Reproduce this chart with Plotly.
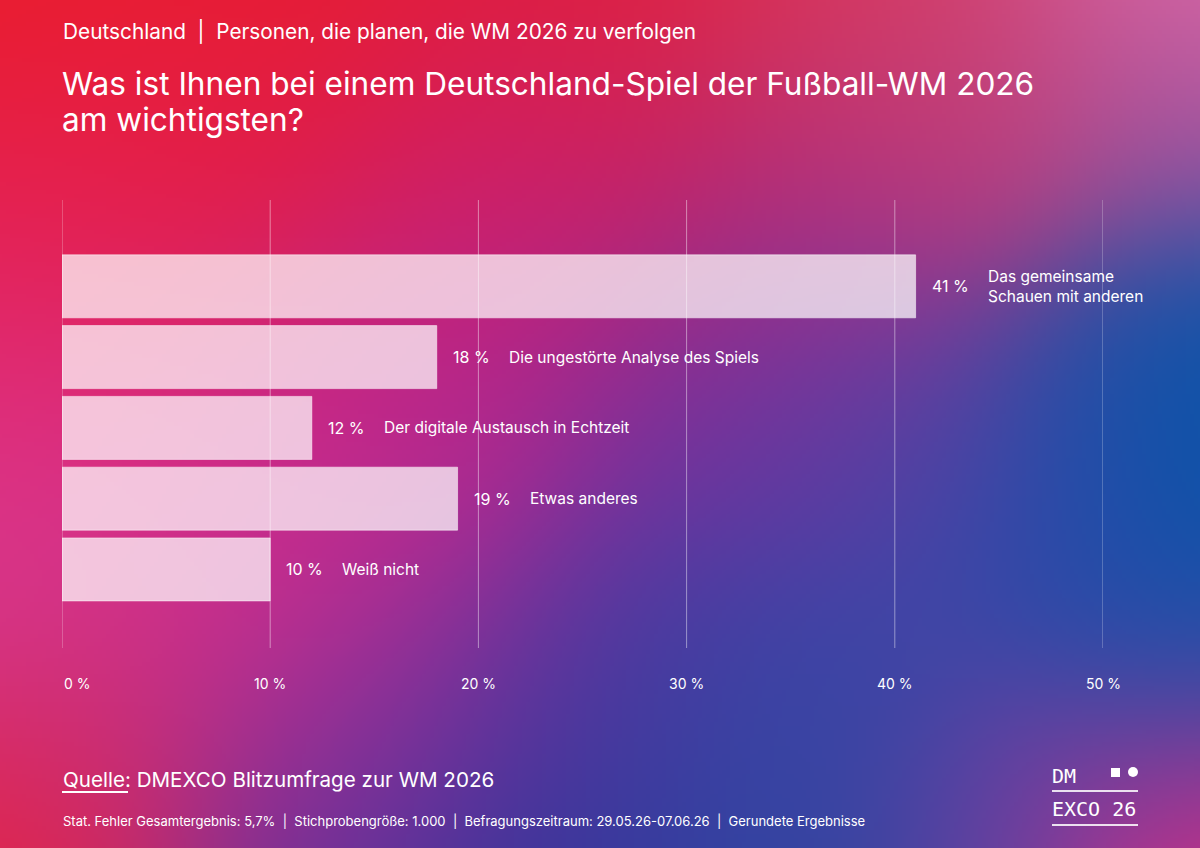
import base64
import struct
import zlib

import numpy as np
import plotly.graph_objects as go

# ------------------------------------------------------------
# data
# ------------------------------------------------------------
categories = [
    "Das gemeinsame<br>Schauen mit anderen",
    "Die ungestörte Analyse des Spiels",
    "Der digitale Austausch in Echtzeit",
    "Etwas anderes",
    "Weiß nicht",
]
values = [41, 18, 12, 19, 10]
tick_vals = [0, 10, 20, 30, 40, 50]
tick_text = ["0 %", "10 %", "20 %", "30 %", "40 %", "50 %"]

W, H = 1200, 848
L, R, T, B = 62, 97, 200, 200
PW, PH = W - L - R, H - T - B


def px(x):
    return (x - L) / PW


def py(y):
    return (H - B - y) / PH


# ------------------------------------------------------------
# background gradient (rendered to a small png)
# ------------------------------------------------------------
blobs = [
    (0, 0, "#ec1c26", 150), (300, 40, "#ea1c2a", 150), (620, 60, "#e41e34", 150),
    (880, 40, "#e04060", 130), (1180, 10, "#d86aa8", 120), (1180, 150, "#9450a0", 90),
    (1000, 150, "#b8407e", 120), (1195, 300, "#0555aa", 90), (1195, 450, "#0555aa", 90),
    (1195, 600, "#0a55aa", 90), (1100, 380, "#2050a8", 90), (1080, 560, "#3048a8", 100),
    (1180, 720, "#4a48a5", 100), (820, 220, "#9a2e95", 130), (500, 210, "#c0208a", 140),
    (200, 180, "#e21e50", 140), (20, 220, "#e4225a", 130), (720, 420, "#6a35a0", 130),
    (930, 420, "#4a45a5", 110), (20, 420, "#e0307f", 130), (20, 600, "#d83a90", 130),
    (260, 640, "#c8308f", 130), (420, 700, "#8a309a", 120), (620, 700, "#4a3aa0", 120),
    (820, 700, "#3a48a8", 120), (300, 830, "#6a309a", 110), (520, 830, "#28359a", 120),
    (800, 830, "#2c45a0", 120), (1000, 820, "#7040a0", 100), (1195, 845, "#e42a80", 100),
    (10, 845, "#ea223a", 110), (90, 760, "#c82c70", 110), (400, 420, "#b02890", 130),
    (250, 450, "#d42a8c", 130),
]

gw, gh = 300, 212
gx, gy = np.meshgrid(np.linspace(0, W, gw), np.linspace(0, H, gh))
acc = np.zeros((gh, gw, 3))
wsum = np.zeros((gh, gw))
for bx, by, col, sig in blobs:
    rgb = np.array([int(col[i:i + 2], 16) for i in (1, 3, 5)], dtype=float)
    w = np.exp(-((gx - bx) ** 2 + (gy - by) ** 2) / (2 * float(sig) ** 2))
    acc += w[..., None] * rgb
    wsum += w
img = np.clip(acc / (wsum[..., None] + 1e-12), 0, 255).astype(np.uint8)


def png_uri(a):
    h, w, _ = a.shape
    raw = b"".join(b"\x00" + a[r].tobytes() for r in range(h))

    def chunk(tag, data):
        c = struct.pack(">I", len(data)) + tag + data
        return c + struct.pack(">I", zlib.crc32(tag + data) & 0xFFFFFFFF)

    png = (b"\x89PNG\r\n\x1a\n"
           + chunk(b"IHDR", struct.pack(">IIBBBBB", w, h, 8, 2, 0, 0, 0))
           + chunk(b"IDAT", zlib.compress(raw, 9))
           + chunk(b"IEND", b""))
    return "data:image/png;base64," + base64.b64encode(png).decode()


# ------------------------------------------------------------
# figure
# ------------------------------------------------------------
ypos = list(range(len(categories)))
font = "Inter"
white = "#ffffff"

fig = go.Figure()
fig.add_trace(go.Bar(
    x=values,
    y=ypos,
    orientation="h",
    width=0.89,
    marker=dict(color="rgba(255,255,255,0.72)",
                line=dict(color="rgba(255,255,255,0.5)", width=1)),
    hoverinfo="skip",
))

ann = []
for v, yy, cat in zip(values, ypos, categories):
    ann.append(dict(x=v, y=yy, xref="x", yref="y", text=f"{v} %",
                    xanchor="left", xshift=14, showarrow=False,
                    font=dict(family=font, size=16, color=white)))
    ann.append(dict(x=v, y=yy, xref="x", yref="y", text=cat, align="left",
                    xanchor="left", xshift=70, showarrow=False,
                    font=dict(family=font, size=15.5, color=white)))

for tv, tt in zip(tick_vals, tick_text):
    ann.append(dict(x=tv, y=py(683), xref="x", yref="paper", text=tt,
                    xanchor="left" if tv == 0 else "center", yanchor="middle",
                    showarrow=False, font=dict(family=font, size=14, color=white)))

texts = [
    (61, 31, "Deutschland  |  Personen, die planen, die WM 2026 zu verfolgen", 20.8),
    (60, 83, "Was ist Ihnen bei einem Deutschland-Spiel der Fußball-WM 2026", 31.6),
    (60, 119, "am wichtigsten?", 31.6),
    (61, 779, "Quelle: DMEXCO Blitzumfrage zur WM 2026", 20.6),
    (61, 821, "Stat. Fehler Gesamtergebnis: 5,7%  |  Stichprobengröße: 1.000  |  "
              "Befragungszeitraum: 29.05.26-07.06.26  |  Gerundete Ergebnisse", 13),
]
for x0, y0, t, s in texts:
    ann.append(dict(x=px(x0), y=py(y0), xref="paper", yref="paper", text=t,
                    xanchor="left", yanchor="middle", showarrow=False,
                    font=dict(family=font, size=s, color=white)))

# logo
for x0, y0, t in [(1050, 776, "DM"), (1050, 809, "EXCO 26")]:
    ann.append(dict(x=px(x0), y=py(y0), xref="paper", yref="paper", text=t,
                    xanchor="left", yanchor="middle", showarrow=False,
                    font=dict(family="DejaVu Sans Mono", size=20, color=white)))

# grid lines drawn above the bars, as in the original
shapes = [dict(type="line", xref="x", yref="paper", x0=tv, x1=tv, y0=0, y1=1,
               layer="above", line=dict(color="rgba(255,255,255,0.45)", width=1))
          for tv in tick_vals]

shapes += [
    dict(type="line", xref="paper", yref="paper", x0=px(62), x1=px(128),
         y0=py(792), y1=py(792), line=dict(color=white, width=2)),
    dict(type="line", xref="paper", yref="paper", x0=px(1052), x1=px(1138),
         y0=py(791), y1=py(791), line=dict(color="rgba(255,255,255,0.85)", width=2)),
    dict(type="line", xref="paper", yref="paper", x0=px(1052), x1=px(1138),
         y0=py(825), y1=py(825), line=dict(color="rgba(255,255,255,0.85)", width=2)),
    dict(type="rect", xref="paper", yref="paper", x0=px(1111), x1=px(1120),
         y0=py(777), y1=py(768), fillcolor=white, line=dict(width=0)),
    dict(type="circle", xref="paper", yref="paper", x0=px(1128), x1=px(1138),
         y0=py(777), y1=py(767), fillcolor=white, line=dict(width=0)),
]

fig.update_layout(
    width=W,
    height=H,
    margin=dict(l=L, r=R, t=T, b=B),
    paper_bgcolor="#7a30a0",
    plot_bgcolor="rgba(0,0,0,0)",
    showlegend=False,
    annotations=ann,
    shapes=shapes,
    images=[dict(source=png_uri(img), xref="paper", yref="paper",
                 x=px(0), y=py(0), sizex=W / PW, sizey=H / PH,
                 xanchor="left", yanchor="top", sizing="stretch",
                 layer="below")],
    xaxis=dict(range=[0, 50], showticklabels=False, showgrid=False,
               zeroline=False, showline=False, fixedrange=True),
    yaxis=dict(range=[5.11, -1.22], visible=False, fixedrange=True),
)

fig.write_html(
    "out.html",
    config={"displayModeBar": False},
    post_script="document.body.style.margin='0';document.body.style.overflow='hidden';",
)
